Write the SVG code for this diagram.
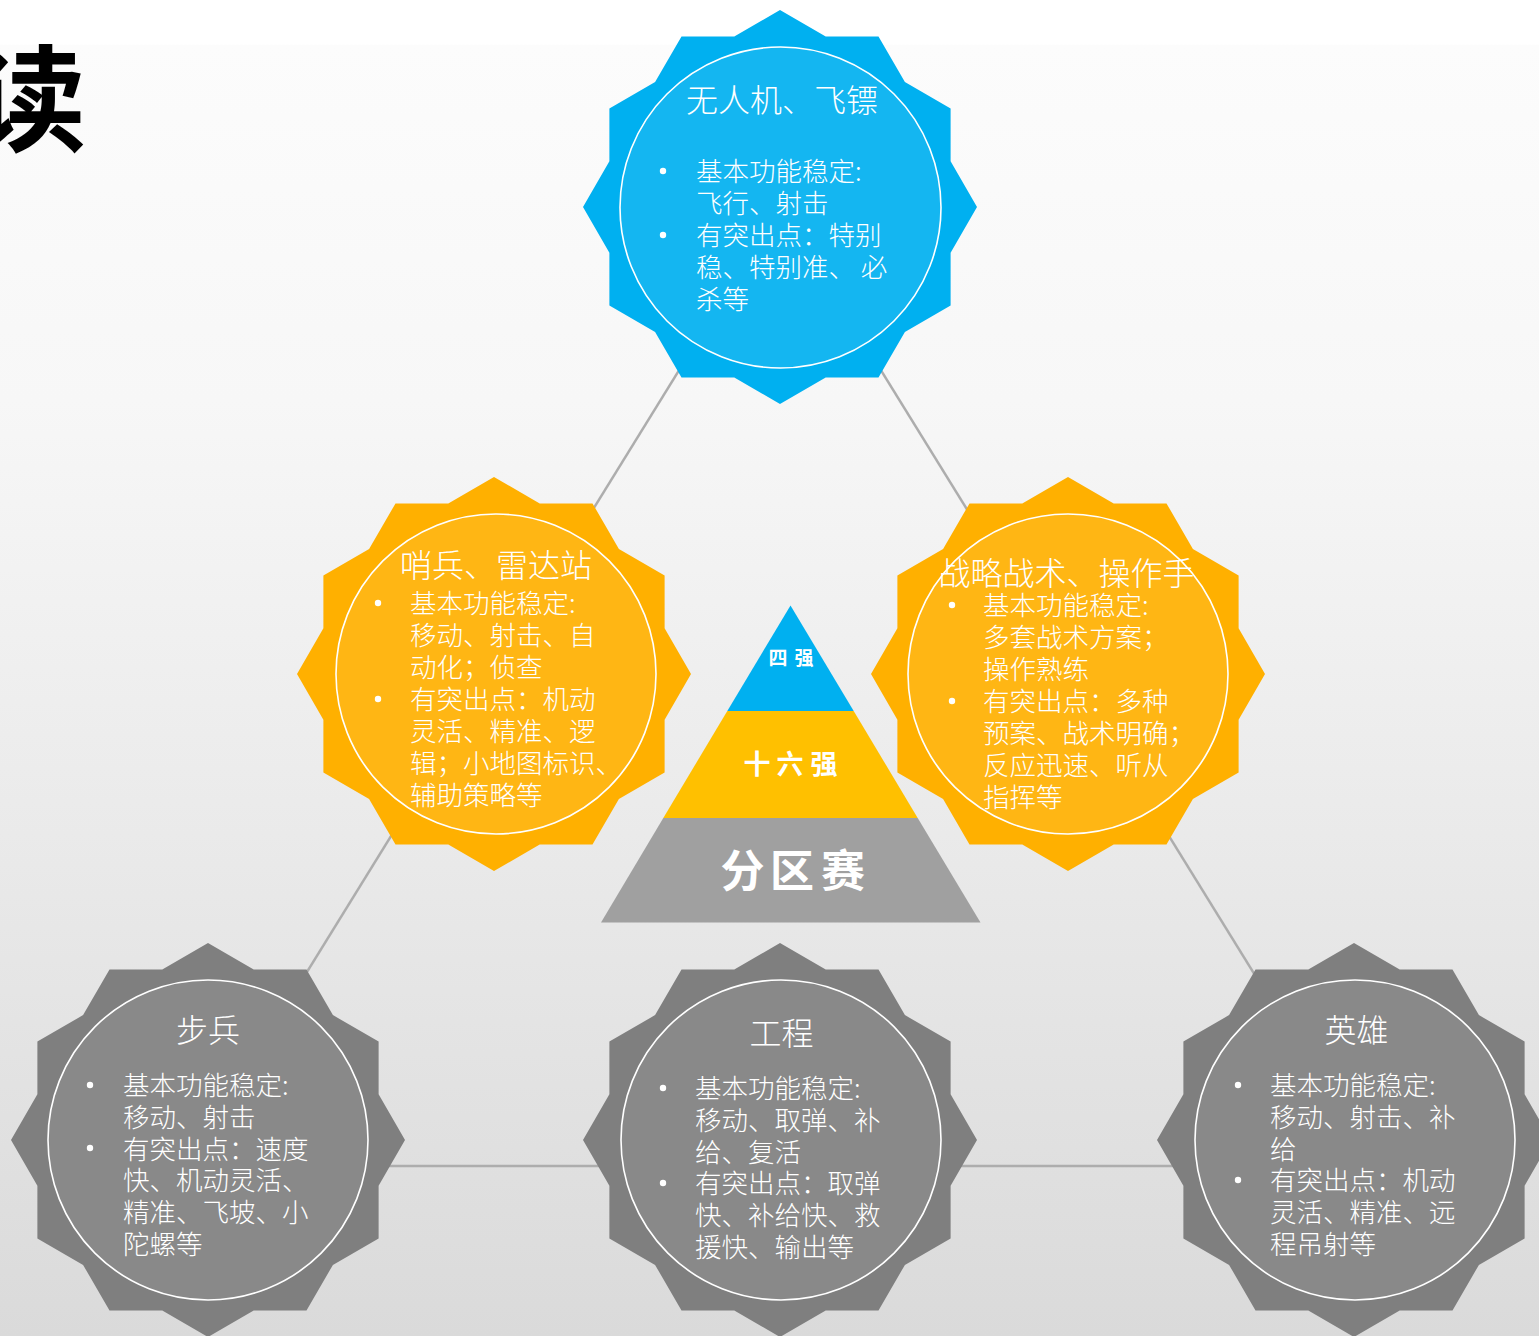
<svg xmlns="http://www.w3.org/2000/svg" xmlns:xlink="http://www.w3.org/1999/xlink" width="1539" height="1336" viewBox="0 0 1539 1336">
  <defs>
    <linearGradient id="bg" x1="0" y1="0" x2="0" y2="1">
      <stop offset="0" stop-color="#FFFFFF"/>
      <stop offset="0.033" stop-color="#FFFFFF"/>
      <stop offset="0.034" stop-color="#FCFCFC"/>
      <stop offset="0.3" stop-color="#F7F7F7"/>
      <stop offset="0.6" stop-color="#EBEBEB"/>
      <stop offset="1" stop-color="#DADADA"/>
    </linearGradient>
    <!-- 12-point seal: outer radius 197, inner radius 176.6 -->
    <path id="seal" d="M197,0 L170.61,45.71 L170.61,98.5 L124.9,124.9 L98.5,170.61 L45.71,170.61 L0,197 L-45.71,170.61 L-98.5,170.61 L-124.9,124.9 L-170.61,98.5 L-170.61,45.71 L-197,0 L-170.61,-45.71 L-170.61,-98.5 L-124.9,-124.9 L-98.5,-170.61 L-45.71,-170.61 L0,-197 L45.71,-170.61 L98.5,-170.61 L124.9,-124.9 L170.61,-98.5 L170.61,-45.71 Z"/>
    <style>
      .blue { fill: #00B0F0; }
      .orange { fill: #FFB000; }
      .gray { fill: #7F7F7F; }
      .ring { fill: #FFFFFF; fill-opacity: 0.08; stroke: #FFFFFF; stroke-width: 1.6; }
      .title { font-family: "Noto Sans CJK SC", "Noto Sans", sans-serif; font-weight: 300; font-size: 32px; fill: #FFFFFF; text-anchor: middle; }
      .body { font-family: "Noto Sans CJK SC", "Noto Sans", sans-serif; font-weight: 300; font-size: 26.5px; fill: #FFFFFF; }
      .dot { fill: #FFFFFF; }
      .link { stroke: #ADADAD; stroke-width: 2.5; fill: none; }
      .tier { font-family: "Noto Sans CJK SC", sans-serif; font-weight: 700; fill: #FFFFFF; text-anchor: middle; }
    </style>
  </defs>

  <rect x="0" y="0" width="1539" height="1336" fill="url(#bg)"/>

  <!-- heading (partly off the left edge) -->
  <text x="86" y="142" font-family="'Noto Sans CJK SC', sans-serif" font-weight="700" font-size="115" fill="#000000" text-anchor="end">读</text>

  <!-- connectors -->
  <g id="connectors">
    <line class="link" x1="780" y1="207" x2="187" y2="1166"/>
    <line class="link" x1="780" y1="207" x2="1373" y2="1166"/>
    <line class="link" x1="187" y1="1166" x2="1373" y2="1166"/>
  </g>

  <!-- tier pyramid -->
  <g id="pyramid">
    <polygon fill="#00B0F0" points="790.5,605.5 853.7,711 727.3,711"/>
    <polygon fill="#FFC000" points="727.3,711 853.7,711 917.7,818 663.3,818"/>
    <polygon fill="#A0A0A0" points="663.3,818 917.7,818 980.5,922.5 601,922.5"/>
    <text class="tier" font-size="19" x="778 804" y="665">四强</text>
    <text class="tier" font-size="27" x="757 790 824" y="774">十六强</text>
    <text class="tier" font-size="44" x="742.5 792 843" y="887">分区赛</text>
  </g>

  <!-- drone / dart -->
  <g id="node-drone">
    <use xlink:href="#seal" class="blue" transform="translate(780,207)"/>
    <circle class="ring" cx="780.5" cy="207.5" r="160.5"/>
    <text class="title" x="782" y="112">无人机、飞镖</text>
    <circle class="dot" cx="663" cy="171" r="3.2"/>
    <circle class="dot" cx="663" cy="235" r="3.2"/>
    <text class="body" x="696" y="181">基本功能稳定:<tspan x="696" dy="32">飞行、射击</tspan><tspan x="696" dy="32">有突出点：特别</tspan><tspan x="696" dy="32">稳、特别准、 必</tspan><tspan x="696" dy="32">杀等</tspan></text>
  </g>

  <!-- sentry / radar station -->
  <g id="node-sentry">
    <use xlink:href="#seal" class="orange" transform="translate(494,674)"/>
    <circle class="ring" cx="496" cy="674" r="160"/>
    <text class="title" x="496" y="577">哨兵、雷达站</text>
    <circle class="dot" cx="378" cy="603" r="3.2"/>
    <circle class="dot" cx="378" cy="699" r="3.2"/>
    <text class="body" x="410" y="613">基本功能稳定:<tspan x="410" dy="32">移动、射击、自</tspan><tspan x="410" dy="32">动化；侦查</tspan><tspan x="410" dy="32">有突出点：机动</tspan><tspan x="410" dy="32">灵活、精准、逻</tspan><tspan x="410" dy="32">辑；小地图标识、</tspan><tspan x="410" dy="32">辅助策略等</tspan></text>
  </g>

  <!-- strategy / operator -->
  <g id="node-strategy">
    <use xlink:href="#seal" class="orange" transform="translate(1068,674)"/>
    <circle class="ring" cx="1068" cy="674" r="160"/>
    <text class="title" x="1066.5" y="585">战略战术、操作手</text>
    <circle class="dot" cx="952" cy="605" r="3.2"/>
    <circle class="dot" cx="952" cy="701" r="3.2"/>
    <text class="body" x="983" y="615">基本功能稳定:<tspan x="983" dy="32">多套战术方案；</tspan><tspan x="983" dy="32">操作熟练</tspan><tspan x="983" dy="32">有突出点：多种</tspan><tspan x="983" dy="32">预案、战术明确；</tspan><tspan x="983" dy="32">反应迅速、听从</tspan><tspan x="983" dy="32">指挥等</tspan></text>
  </g>

  <!-- infantry -->
  <g id="node-infantry">
    <use xlink:href="#seal" class="gray" transform="translate(208,1140)"/>
    <circle class="ring" cx="208" cy="1140" r="160"/>
    <text class="title" x="208" y="1042">步兵</text>
    <circle class="dot" cx="90" cy="1085" r="3.2"/>
    <circle class="dot" cx="90" cy="1148" r="3.2"/>
    <text class="body" x="123" y="1095">基本功能稳定:<tspan x="123" dy="31.8">移动、射击</tspan><tspan x="123" dy="31.8">有突出点：速度</tspan><tspan x="123" dy="31.8">快、机动灵活、</tspan><tspan x="123" dy="31.8">精准、飞坡、小</tspan><tspan x="123" dy="31.8">陀螺等</tspan></text>
  </g>

  <!-- engineer -->
  <g id="node-engineer">
    <use xlink:href="#seal" class="gray" transform="translate(780,1140)"/>
    <circle class="ring" cx="781" cy="1140" r="160"/>
    <text class="title" x="781.5" y="1045">工程</text>
    <circle class="dot" cx="663" cy="1088" r="3.2"/>
    <circle class="dot" cx="663" cy="1183" r="3.2"/>
    <text class="body" x="695" y="1098">基本功能稳定:<tspan x="695" dy="31.8">移动、取弹、补</tspan><tspan x="695" dy="31.8">给、复活</tspan><tspan x="695" dy="31.8">有突出点：取弹</tspan><tspan x="695" dy="31.8">快、补给快、救</tspan><tspan x="695" dy="31.8">援快、输出等</tspan></text>
  </g>

  <!-- hero -->
  <g id="node-hero">
    <use xlink:href="#seal" class="gray" transform="translate(1354,1140)"/>
    <circle class="ring" cx="1355" cy="1140" r="160"/>
    <text class="title" x="1356.5" y="1042">英雄</text>
    <circle class="dot" cx="1238" cy="1085" r="3.2"/>
    <circle class="dot" cx="1238" cy="1180" r="3.2"/>
    <text class="body" x="1270" y="1095">基本功能稳定:<tspan x="1270" dy="31.8">移动、射击、补</tspan><tspan x="1270" dy="31.8">给</tspan><tspan x="1270" dy="31.8">有突出点：机动</tspan><tspan x="1270" dy="31.8">灵活、精准、远</tspan><tspan x="1270" dy="31.8">程吊射等</tspan></text>
  </g>
</svg>
